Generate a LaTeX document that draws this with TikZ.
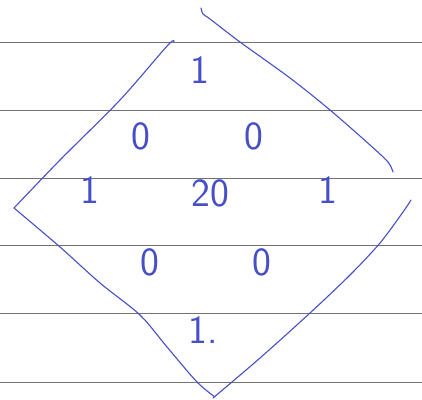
\documentclass[tikz,border=0pt]{standalone}
\usepackage{xcolor}
\definecolor{ink}{RGB}{70,78,200}
\definecolor{rule}{RGB}{115,115,115}
\tikzset{
  digit/.style={text=ink, font=\fontsize{40}{40}\selectfont\sffamily, inner sep=0pt},
  pen/.style={ink, line width=1.1pt, line cap=round, line join=round}
}

\begin{document}
\begin{tikzpicture}[x=1pt, y=-1pt]
  \useasboundingbox (0,0) rectangle (422,399);

  % Ruled lines of the paper.
  \foreach \y in {42,110,178,245,313,382}{
    \draw[rule, line width=.8pt] (0,\y) -- (422,\y);
  }

  % Hand-drawn square round the numbers.
  \draw[pen] plot[smooth, tension=.5] coordinates {(174,42) (168,45) (120,100) (60,160) (14,208)};
  \draw[pen] plot[smooth, tension=.5] coordinates {(14,208) (60,247) (100,283) (140,315) (167,347) (197,382) (215,397)};
  \draw[pen] plot[smooth, tension=.5] coordinates {(213,398) (260,358) (310,313) (350,275) (380,243) (403,212) (411,200)};
  \draw[pen] plot[smooth, tension=.5] coordinates {(201,8) (203,14) (210,19) (240,42) (290,78) (330,110) (370,145) (388,162) (393,172)};

  % Numbers.
  \node[digit] (top)   at (200,70)  {1};
  \node[digit] (ul)    at (141,136) {0};
  \node[digit] (ur)    at (254,136) {0};
  \node[digit] (left)  at (90,190)  {1};
  \node[digit] (mid)   at (210,193) {20};
  \node[digit] (right) at (328,190) {1};
  \node[digit] (ll)    at (150,262) {0};
  \node[digit] (lr)    at (262,262) {0};
  \node[digit] (bot)   at (203,330) {1.};
\end{tikzpicture}
\end{document}
